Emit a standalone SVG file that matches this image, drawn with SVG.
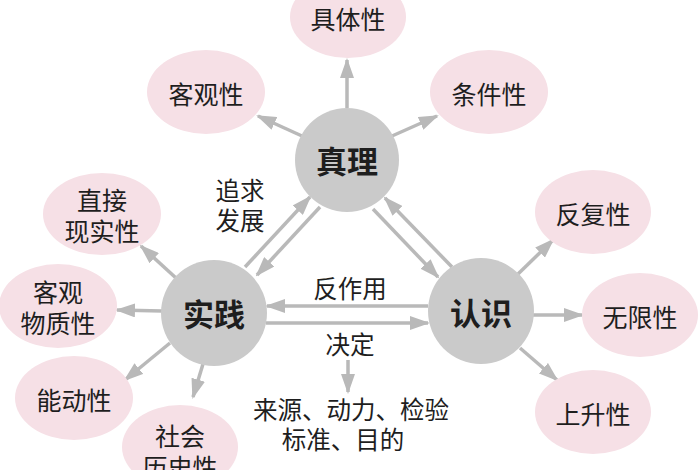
<svg xmlns="http://www.w3.org/2000/svg" width="700" height="470" viewBox="0 0 700 470">
<defs>
<style>
.core{fill:#cacaca}
.attr{fill:#f6e0e6}
.lbl{font-family:"Noto Sans CJK SC","Noto Sans",sans-serif;fill:#1e1e1e;text-anchor:middle;dominant-baseline:central}
.t{font-size:25px}
.b{font-size:31px;font-weight:bold}
.e{font-size:24.5px}
.c line{stroke:#b9b9b9;stroke-width:3.5;marker-end:url(#ah)}
</style>
<marker id="ah" markerUnits="userSpaceOnUse" viewBox="0 0 20 14" refX="18" refY="7" markerWidth="20" markerHeight="14" orient="auto">
<path d="M0,0 L20,7 L0,14 Z" fill="#b9b9b9"/>
</marker>
</defs>
<rect width="700" height="470" fill="#ffffff"/>

<g id="connectors" class="c">
<line x1="347" y1="108" x2="347" y2="60"/>
<line x1="302" y1="136" x2="258" y2="116"/>
<line x1="392" y1="136" x2="437" y2="116"/>
<line x1="176" y1="278" x2="141" y2="246"/>
<line x1="162" y1="311" x2="117" y2="310"/>
<line x1="170" y1="343" x2="125" y2="380"/>
<line x1="203" y1="364" x2="193" y2="397"/>
<line x1="518" y1="274" x2="553" y2="240"/>
<line x1="533" y1="315" x2="582" y2="315"/>
<line x1="520" y1="348" x2="557" y2="380"/>
<line x1="245" y1="267" x2="310" y2="197"/>
<line x1="320" y1="207" x2="257" y2="275"/>
<line x1="373" y1="209" x2="438" y2="277"/>
<line x1="452" y1="267" x2="385" y2="198"/>
<line x1="428" y1="306" x2="267" y2="306"/>
<line x1="266" y1="323" x2="428" y2="323"/>
<line x1="348" y1="360" x2="348" y2="392"/>
</g>

<g id="n-zhenli"><circle class="core" cx="347" cy="160" r="52"/><text class="lbl b" x="347" y="159">真理</text></g>
<g id="n-shijian"><circle class="core" cx="214" cy="313" r="53"/><text class="lbl b" x="214" y="312">实践</text></g>
<g id="n-renshi"><circle class="core" cx="481" cy="311" r="53"/><text class="lbl b" x="481" y="311">认识</text></g>

<g id="n-jutixing"><ellipse class="attr" cx="348" cy="17" rx="58" ry="41"/><text class="lbl t" x="348" y="18">具体性</text></g>
<g id="n-keguanxing"><ellipse class="attr" cx="206" cy="92" rx="59" ry="42"/><text class="lbl t" x="206" y="93">客观性</text></g>
<g id="n-tiaojianxing"><ellipse class="attr" cx="489" cy="92" rx="59" ry="42"/><text class="lbl t" x="489" y="93">条件性</text></g>
<g id="n-zhijie"><ellipse class="attr" cx="102" cy="214" rx="59" ry="41"/><text class="lbl t" x="102" y="199">直接<tspan x="102" dy="31">现实性</tspan></text></g>
<g id="n-wuzhi"><ellipse class="attr" cx="58" cy="306" rx="59" ry="42"/><text class="lbl t" x="58" y="291">客观<tspan x="58" dy="31">物质性</tspan></text></g>
<g id="n-nengdong"><ellipse class="attr" cx="74" cy="398" rx="59" ry="42"/><text class="lbl t" x="74" y="399">能动性</text></g>
<g id="n-shehui"><ellipse class="attr" cx="180" cy="447" rx="58" ry="42"/><text class="lbl t" x="180" y="435">社会<tspan x="180" dy="31">历史性</tspan></text></g>
<g id="n-fanfu"><ellipse class="attr" cx="593" cy="212" rx="58" ry="42"/><text class="lbl t" x="593" y="213">反复性</text></g>
<g id="n-wuxian"><ellipse class="attr" cx="640" cy="315" rx="58" ry="42"/><text class="lbl t" x="640" y="316">无限性</text></g>
<g id="n-shangsheng"><ellipse class="attr" cx="593" cy="412" rx="58" ry="42"/><text class="lbl t" x="593" y="413">上升性</text></g>

<g id="labels">
<text class="lbl e" x="240" y="189">追求<tspan x="240" dy="30">发展</tspan></text>
<text class="lbl e" x="350" y="287">反作用</text>
<text class="lbl e" x="350" y="343">决定</text>
<text class="lbl e" x="351" y="408">来源、动力、检验<tspan x="343" dy="30">标准、目的</tspan></text>
</g>
</svg>
